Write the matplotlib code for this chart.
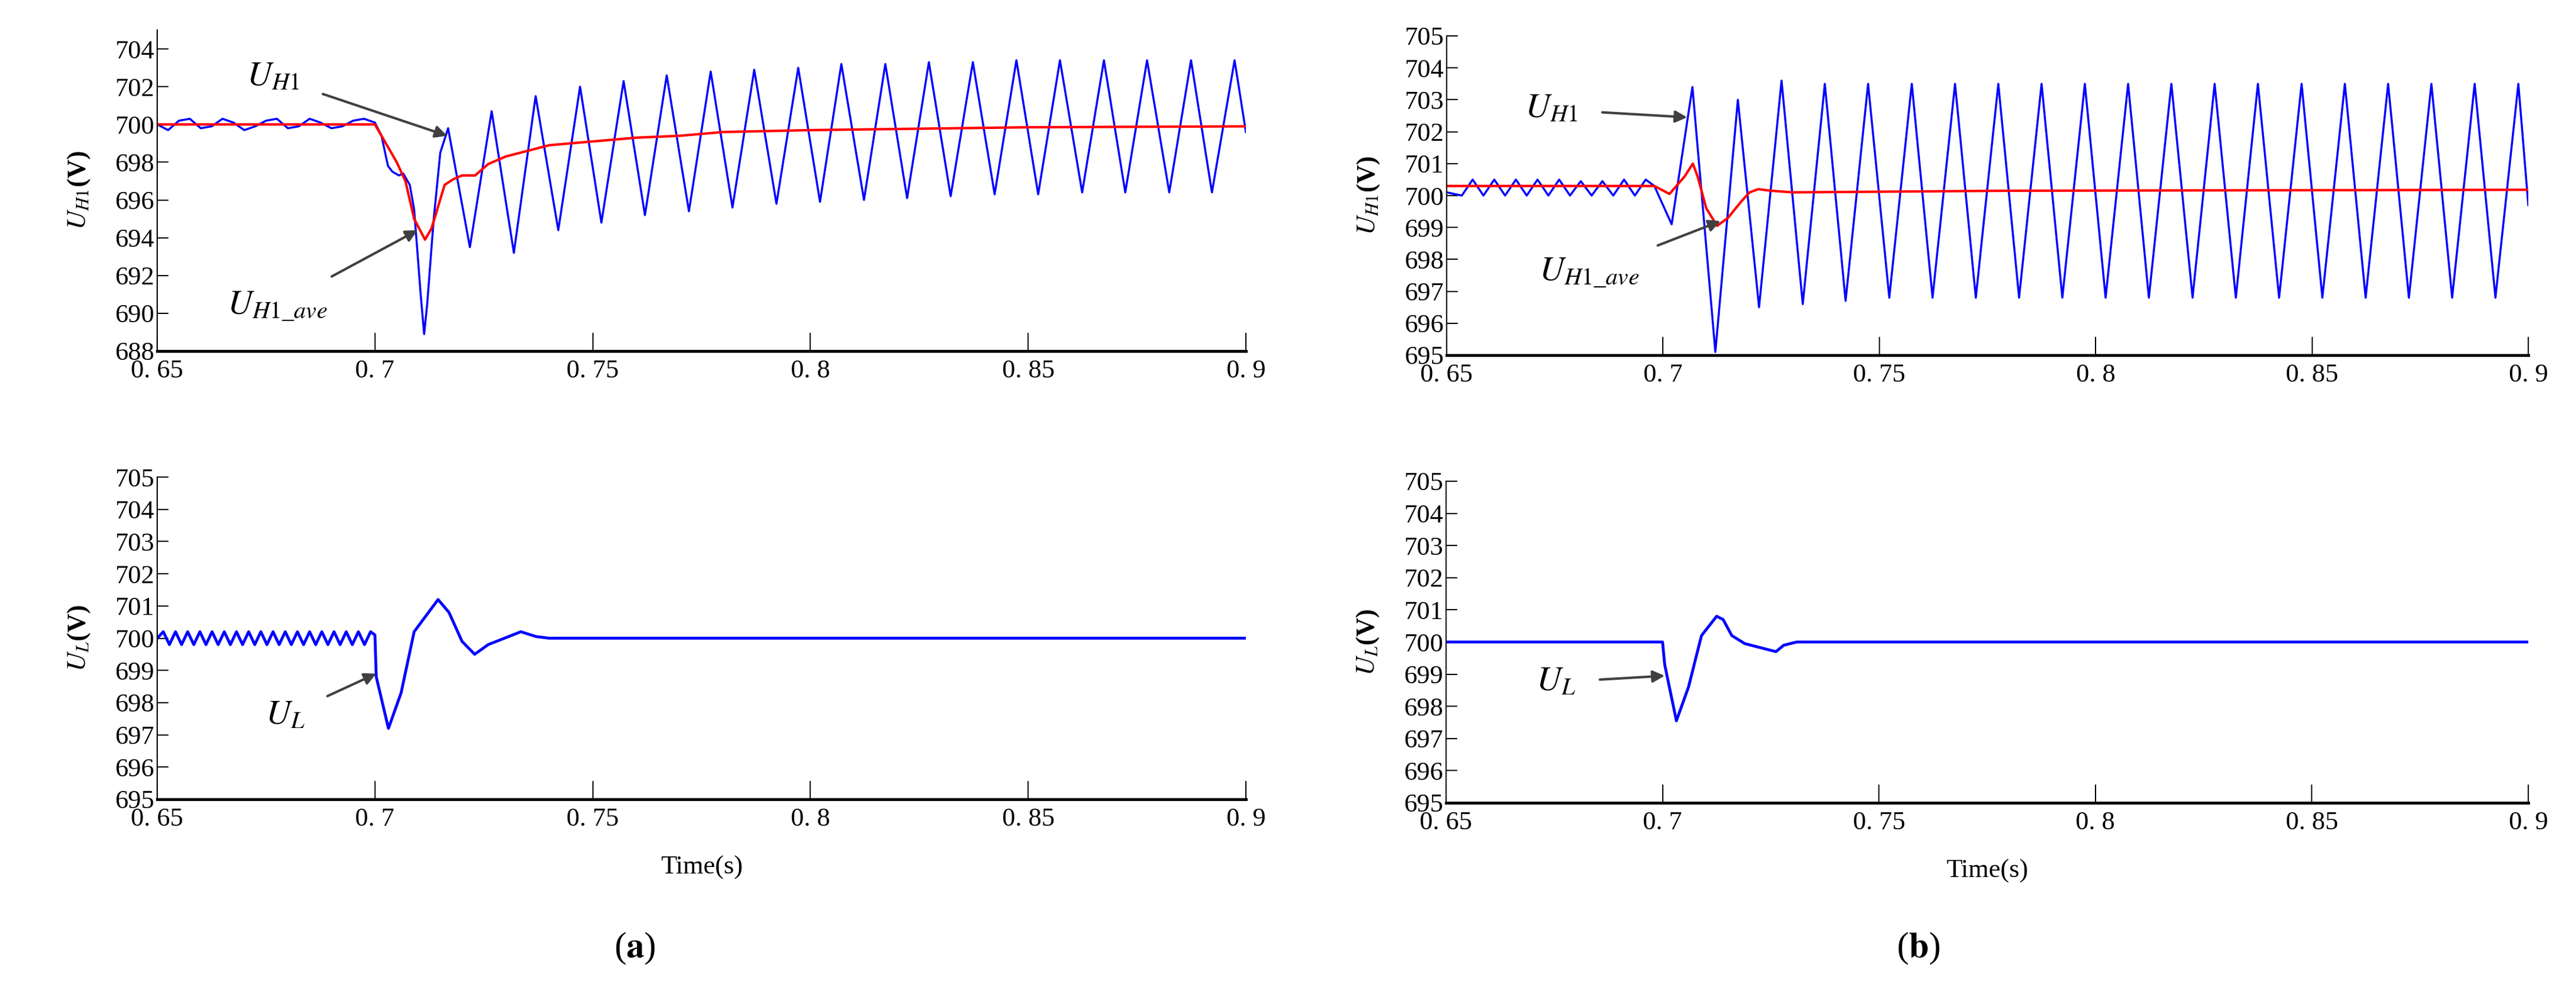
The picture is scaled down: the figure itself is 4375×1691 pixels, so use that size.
import numpy as np
import matplotlib
matplotlib.use("Agg")
import matplotlib.pyplot as plt

plt.rcParams["font.family"] = ["Liberation Serif", "DejaVu Serif"]
plt.rcParams["mathtext.fontset"] = "stix"

# ── (a) top: U_H1 and its average ─────────────────────────────────────────────
a_pre_t = [0.650, 0.6525, 0.655, 0.6575, 0.660, 0.6625, 0.665, 0.6675, 0.670, 0.6725,
           0.675, 0.6775, 0.680, 0.6825, 0.685, 0.6875, 0.690, 0.6925, 0.695, 0.6975, 0.700]
a_pre_v = [700.0, 699.7, 700.2, 700.3, 699.8, 699.9, 700.3, 700.1, 699.7, 699.9,
           700.2, 700.3, 699.8, 699.9, 700.3, 700.1, 699.8, 699.9, 700.2, 700.3, 700.1]
a_drop_t = [0.7015, 0.703, 0.704, 0.7055, 0.7065, 0.708, 0.709, 0.7105, 0.7113, 0.712,
            0.7135, 0.715, 0.7168]
a_drop_v = [699.4, 697.8, 697.5, 697.3, 697.4, 696.8, 695.5, 691.0, 688.9, 690.5,
            695.0, 698.5, 699.8]
a_trough_v = [693.5, 693.2, 694.4, 694.8, 695.2, 695.4, 695.6, 695.8, 695.9, 696.0,
              696.1, 696.2, 696.3, 696.3, 696.4, 696.4, 696.4, 696.4]
a_peak_v = [700.7, 701.5, 702.0, 702.3, 702.6, 702.8, 702.9, 703.0, 703.2, 703.2,
            703.3, 703.3, 703.4, 703.4, 703.4, 703.4, 703.4, 703.4]
a_trough_t = [0.7218, 0.7319, 0.7421, 0.7520, 0.7620, 0.7721, 0.7821, 0.7922, 0.8022, 0.8123,
              0.8222, 0.8322, 0.8423, 0.8523, 0.8624, 0.8723, 0.8824, 0.8922]
a_peak_t = [0.7268, 0.7369, 0.7471, 0.7571, 0.7670, 0.7771, 0.7871, 0.7972, 0.8071, 0.8172,
            0.8272, 0.8373, 0.8473, 0.8573, 0.8674, 0.8773, 0.8874, 0.8974]
a_end = (0.900, 699.6)
a_avg_t = [0.650, 0.700, 0.702, 0.705, 0.707, 0.709, 0.7115, 0.713, 0.716, 0.718, 0.720,
           0.723, 0.726, 0.730, 0.735, 0.740, 0.750, 0.760, 0.770, 0.780, 0.800, 0.850, 0.900]
a_avg_v = [700.0, 700.0, 699.2, 698.0, 697.0, 695.0, 693.9, 694.5, 696.8, 697.1, 697.3,
           697.3, 697.9, 698.3, 698.6, 698.9, 699.1, 699.3, 699.4, 699.6, 699.7, 699.85, 699.9]

# ── (b) top ───────────────────────────────────────────────────────────────────
b_pre_t = [0.650, 0.6535, 0.656, 0.6585, 0.661, 0.6635, 0.666, 0.6685, 0.671, 0.6735,
           0.676, 0.6785, 0.681, 0.6835, 0.686, 0.6885, 0.691, 0.6935, 0.696, 0.698]
b_pre_v = [700.1, 700.0, 700.5, 700.0, 700.5, 700.0, 700.5, 700.0, 700.5, 700.0,
           700.5, 700.0, 700.45, 700.0, 700.45, 700.0, 700.5, 700.0, 700.5, 700.3]
b_trough_t = [0.7020, 0.7121, 0.7222, 0.7323, 0.7422, 0.7523, 0.7623, 0.7723, 0.7823, 0.7923,
              0.8023, 0.8123, 0.8224, 0.8324, 0.8424, 0.8524, 0.8624, 0.8724, 0.8824, 0.8924]
b_trough_v = [699.1, 695.1, 696.5, 696.6, 696.7, 696.8, 696.8, 696.8, 696.8, 696.8,
              696.8, 696.8, 696.8, 696.8, 696.8, 696.8, 696.8, 696.8, 696.8, 696.8]
b_peak_t = [0.7068, 0.7173, 0.7274, 0.7374, 0.7474, 0.7575, 0.7675, 0.7775, 0.7875, 0.7975,
            0.8075, 0.8175, 0.8275, 0.8375, 0.8476, 0.8576, 0.8676, 0.8776, 0.8876, 0.8977]
b_peak_v = [703.4, 703.0, 703.6, 703.5, 703.5, 703.5, 703.5, 703.5, 703.5, 703.5,
            703.5, 703.5, 703.5, 703.5, 703.5, 703.5, 703.5, 703.5, 703.5, 703.5]
b_end = (0.900, 699.7)
b_avg_t = [0.650, 0.698, 0.7015, 0.705, 0.7069, 0.708, 0.710, 0.7125, 0.715, 0.718, 0.720,
           0.722, 0.725, 0.730, 0.750, 0.780, 0.900]
b_avg_v = [700.3, 700.3, 700.05, 700.6, 701.0, 700.6, 699.6, 699.05, 699.3, 699.8, 700.1,
           700.2, 700.15, 700.1, 700.12, 700.15, 700.18]

# ── bottom panels: U_L ───────────────────────────────────────────────────────
ua_t = [0.650, 0.6514, 0.6528, 0.6542, 0.6556, 0.657, 0.6584, 0.6598, 0.6612, 0.6626,
        0.664, 0.6654, 0.6668, 0.6682, 0.6696, 0.671, 0.6724, 0.6738, 0.6752, 0.6766,
        0.678, 0.6794, 0.6808, 0.6822, 0.6836, 0.685, 0.6864, 0.6878, 0.6892, 0.6906,
        0.692, 0.6934, 0.6948, 0.6962, 0.6976, 0.699, 0.700,
        0.7003, 0.7031, 0.706, 0.709, 0.7145, 0.717, 0.720, 0.7229, 0.726, 0.7335,
        0.737, 0.740, 0.900]
ua_v = [700.0, 700.2, 699.8, 700.2, 699.8, 700.2, 699.8, 700.2, 699.8, 700.2,
        699.8, 700.2, 699.8, 700.2, 699.8, 700.2, 699.8, 700.2, 699.8, 700.2,
        699.8, 700.2, 699.8, 700.2, 699.8, 700.2, 699.8, 700.2, 699.8, 700.2,
        699.8, 700.2, 699.8, 700.2, 699.8, 700.2, 700.1,
        698.8, 697.2, 698.3, 700.2, 701.2, 700.8, 699.9, 699.5, 699.8, 700.2,
        700.05, 700.0, 700.0]
ub_t = [0.650, 0.700, 0.7005, 0.7032, 0.706, 0.709, 0.7125, 0.714, 0.716, 0.719,
        0.7262, 0.728, 0.731, 0.900]
ub_v = [700.0, 700.0, 699.3, 697.55, 698.6, 700.2, 700.8, 700.7, 700.2, 699.95,
        699.7, 699.9, 700.0, 700.0]

xticks = [0.65, 0.7, 0.75, 0.8, 0.85, 0.9]
xticklabels = ["0. 65", "0. 7", "0. 75", "0. 8", "0. 85", "0. 9"]


def osc(pre_t, pre_v, mid_t, mid_v, tr_t, tr_v, pk_t, pk_v, end):
    t = list(pre_t) + list(mid_t)
    v = list(pre_v) + list(mid_v)
    ext = sorted(zip(tr_t + pk_t, tr_v + pk_v))
    ext = [p for p in ext if p[0] > t[-1]]
    t += [p[0] for p in ext] + [end[0]]
    v += [p[1] for p in ext] + [end[1]]
    return t, v


W, H = 4375, 1691
fig = plt.figure(figsize=(W / 100, H / 100), dpi=100)


def mkax(x0, y0, x1, y1):
    return fig.add_axes([x0 / W, 1 - y1 / H, (x1 - x0) / W, (y1 - y0) / H])


def style(ax, ylim, yticks, ylabel):
    ax.set_xlim(0.65, 0.9)
    ax.set_ylim(*ylim)
    ax.set_xticks(xticks)
    ax.set_xticklabels(xticklabels)
    ax.set_yticks(yticks)
    ax.tick_params(direction="in", labelsize=32, length=14, width=1.5)
    ax.tick_params(axis="x", length=22, pad=10)
    for s in ["top", "right"]:
        ax.spines[s].set_visible(False)
    ax.spines["bottom"].set_linewidth(3.5)
    ax.spines["left"].set_linewidth(1.5)
    ax.set_ylabel(ylabel, fontsize=32, fontweight="bold", labelpad=28)


def note(ax, text, xy, xytext):
    ax.annotate(text, xy=xy, xytext=xytext, fontsize=42, ha="center", va="center",
                arrowprops=dict(arrowstyle="-|>", color="#404040", lw=3,
                                mutation_scale=30, shrinkA=28, shrinkB=0))


# top left
ax = mkax(267, 51, 2116, 596)
t, v = osc(a_pre_t, a_pre_v, a_drop_t, a_drop_v, a_trough_t, a_trough_v, a_peak_t, a_peak_v, a_end)
ax.plot(t, v, color="#0000ff", lw=2.5)
ax.plot(a_avg_t, a_avg_v, color="#ff0000", lw=3)
style(ax, (688, 705), range(688, 705, 2), r"$\boldsymbol{U_{H1}}$(V)")
note(ax, r"$U_{H1}$", (0.7166, 699.4), (0.6766, 702.5))
note(ax, r"$U_{H1\_ave}$", (0.7098, 694.4), (0.6776, 690.4))

# top right
ax = mkax(2457, 61, 4294, 603)
t, v = osc(b_pre_t, b_pre_v, [], [], b_trough_t, b_trough_v, b_peak_t, b_peak_v, b_end)
ax.plot(t, v, color="#0000ff", lw=2.5)
ax.plot(b_avg_t, b_avg_v, color="#ff0000", lw=3)
style(ax, (695, 705), range(695, 706), r"$\boldsymbol{U_{H1}}$(V)")
note(ax, r"$U_{H1}$", (0.7056, 702.45), (0.6742, 702.7))
note(ax, r"$U_{H1\_ave}$", (0.7133, 699.2), (0.6829, 697.6))

# bottom left
ax = mkax(267, 810, 2116, 1357)
ax.plot(ua_t, ua_v, color="#0000ff", lw=3.5)
style(ax, (695, 705), range(695, 706), r"$\boldsymbol{U_L}$(V)")
ax.set_xlabel("Time(s)", fontsize=32, labelpad=30)
note(ax, r"$U_L$", (0.7003, 698.9), (0.6794, 697.6))

# bottom right
ax = mkax(2456, 817, 4294, 1363)
ax.plot(ub_t, ub_v, color="#0000ff", lw=3.5)
style(ax, (695, 705), range(695, 706), r"$\boldsymbol{U_L}$(V)")
ax.set_xlabel("Time(s)", fontsize=32, labelpad=30)
note(ax, r"$U_L$", (0.7005, 698.95), (0.6753, 698.75))

fig.text(1078 / W, 1 - 1610 / H, r"($\mathbf{a}$)", fontsize=44, ha="center", va="center")
fig.text(3258 / W, 1 - 1610 / H, r"($\mathbf{b}$)", fontsize=44, ha="center", va="center")

fig.savefig("out.png", dpi=100)
